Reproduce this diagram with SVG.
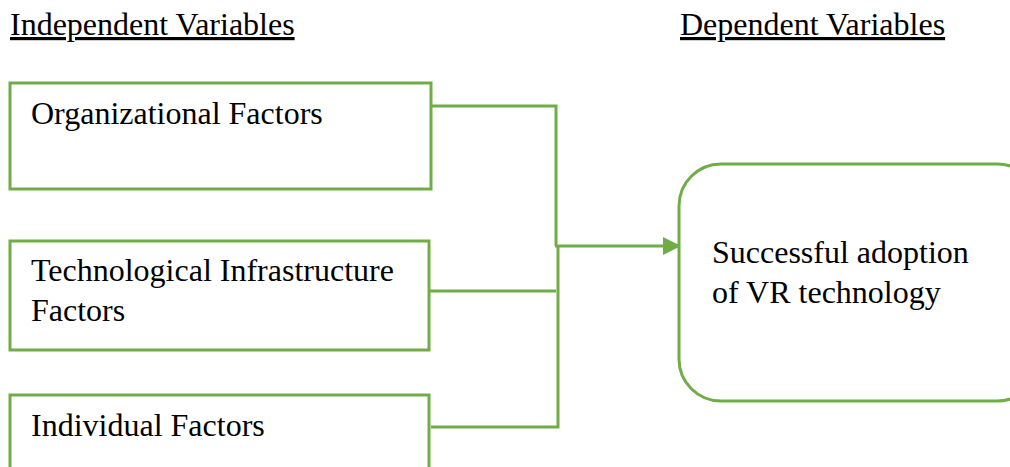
<svg xmlns="http://www.w3.org/2000/svg" width="1010" height="467" viewBox="0 0 1010 467">
<style>
.t{font-family:"Liberation Serif","Times New Roman",serif;font-size:32px;fill:#000}
.h{text-decoration:underline}
.box{fill:#fff;stroke:#70AD47;stroke-width:3}
.c{fill:none;stroke:#70AD47;stroke-width:3}
</style>
<defs>
<marker id="arr" markerWidth="6" markerHeight="6" refX="5" refY="3" orient="auto" markerUnits="strokeWidth">
<path d="M0,0 L6,3 L0,6 z" fill="#70AD47"/>
</marker>
</defs>
<rect width="1010" height="467" fill="#fff"/>
<text class="t h" x="10" y="35">Independent Variables</text>
<text class="t h" x="680" y="35">Dependent Variables</text>
<g id="connectors">
<polyline class="c" points="431,106 556,106 556,246"/>
<line class="c" x1="555" y1="246" x2="678" y2="246" marker-end="url(#arr)"/>
<line class="c" x1="425" y1="291" x2="556" y2="291"/>
<polyline class="c" points="431,427 558,427 558,246"/>
</g>
<g id="org">
<rect class="box" x="10" y="83" width="421" height="106"/>
<text class="t" x="31" y="124">Organizational Factors</text>
</g>
<g id="tech">
<rect class="box" x="10" y="241" width="419" height="109"/>
<text class="t" x="31" y="281">Technological Infrastructure</text>
<text class="t" x="31" y="321">Factors</text>
</g>
<g id="indiv">
<rect class="box" x="10" y="395" width="419" height="100"/>
<text class="t" x="31" y="436">Individual Factors</text>
</g>
<g id="outcome">
<rect class="box" x="679" y="164" width="360" height="237" rx="42"/>
<text class="t" x="712" y="263">Successful adoption</text>
<text class="t" x="712" y="303">of VR technology</text>
</g>
</svg>
